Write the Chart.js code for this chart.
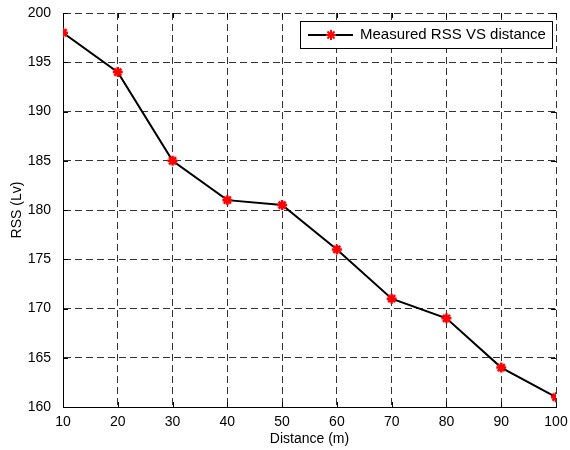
<!DOCTYPE html>
<html>
<head>
<meta charset="utf-8">
<script src="https://cdn.jsdelivr.net/npm/chart.js@4/dist/chart.umd.min.js"></script>
<style>
  html, body { margin: 0; padding: 0; background: #fff; }
  #wrap { width: 570px; height: 450px; position: relative; }
</style>
</head>
<body>
<div id="wrap"><canvas id="chart" width="570" height="450"></canvas></div>
<script>
// === DATA ===
const distances = [10, 20, 30, 40, 50, 60, 70, 80, 90, 100];
const rssValues = [198, 194, 185, 181, 180.5, 176, 171, 169, 164, 161];
const seriesLabel = 'Measured RSS VS distance';
const xTitle = 'Distance (m)';
const yTitle = 'RSS (Lv)';

const FONT = '"Liberation Sans", Arial, sans-serif';
const GRID_DASH = [7, 4];

// MATLAB-like inward ticks + boxed legend in the upper right corner
const matlabLook = {
    id: 'matlabLook',
    afterDatasetsDraw(chart) {
        const { ctx, chartArea: a, scales } = chart;
        const len = 5;
        ctx.save();
        ctx.strokeStyle = '#000';
        ctx.lineWidth = 1;
        ctx.beginPath();
        scales.x.ticks.forEach((t, i) => {
            const px = Math.round(scales.x.getPixelForTick(i)) + 0.5;
            ctx.moveTo(px, a.bottom); ctx.lineTo(px, a.bottom - len);
            ctx.moveTo(px, a.top); ctx.lineTo(px, a.top + len);
        });
        scales.y.ticks.forEach((t, i) => {
            const py = Math.round(scales.y.getPixelForTick(i)) + 0.5;
            ctx.moveTo(a.left, py); ctx.lineTo(a.left + len, py);
            ctx.moveTo(a.right, py); ctx.lineTo(a.right - len, py);
        });
        ctx.stroke();
        ctx.restore();
    },
    afterDraw(chart) {
        const { ctx, chartArea: a } = chart;
        const ds = chart.data.datasets[0];
        ctx.save();
        ctx.font = '15px ' + FONT;
        const tw = ctx.measureText(ds.label).width;
        const h = 27;
        const w = Math.round(60 + tw + 6);
        const right = Math.round(a.right - 4);
        const left = right - w;
        const top = Math.round(a.top + 8);
        ctx.fillStyle = '#fff';
        ctx.fillRect(left, top, w, h);
        ctx.strokeStyle = '#000';
        ctx.lineWidth = 1;
        ctx.strokeRect(left + 0.5, top + 0.5, w, h);
        const cy = top + h / 2 + 0.5;
        ctx.lineWidth = 2;
        ctx.beginPath();
        ctx.moveTo(left + 8, cy);
        ctx.lineTo(left + 53, cy);
        ctx.stroke();
        ctx.strokeStyle = '#ff0000';
        ctx.fillStyle = '#ff0000';
        Chart.helpers.drawPoint(ctx, { pointStyle: 'star', radius: 5, rotation: 0, borderWidth: 2.5 }, left + 31, cy);
        ctx.fillStyle = '#000';
        ctx.textBaseline = 'middle';
        ctx.fillText(ds.label, left + 60, cy);
        ctx.restore();
    }
};

const chart = new Chart(document.getElementById('chart'), {
    type: 'line',
    data: {
        datasets: [{
            label: seriesLabel,
            data: distances.map((d, i) => ({ x: d, y: rssValues[i] })),
            borderColor: '#000',
            borderWidth: 2,
            tension: 0,
            pointStyle: 'star',
            pointRadius: 5,
            pointBorderWidth: 2.5,
            pointBorderColor: '#ff0000',
            pointBackgroundColor: '#ff0000'
        }]
    },
    options: {
        responsive: false,
        animation: false,
        layout: { padding: { top: 13, right: 14, left: 0, bottom: 0 } },
        plugins: {
            legend: { display: false },
            tooltip: { enabled: false }
        },
        scales: {
            x: {
                type: 'linear',
                min: 10, max: 100,
                ticks: { stepSize: 10, color: '#000', font: { family: FONT, size: 14 }, padding: 2, maxRotation: 0 },
                grid: { color: '#333', lineWidth: 1, drawTicks: true, tickLength: 5, tickColor: 'rgba(0,0,0,0)' },
                border: { display: true, color: '#000', width: 1, dash: GRID_DASH },
                title: { display: true, text: xTitle, color: '#000', font: { family: FONT, size: 14 }, padding: { top: 2, bottom: 2 } },
                afterFit: (s) => { s.height = 43; }
            },
            y: {
                min: 160, max: 200,
                ticks: { stepSize: 5, color: '#000', font: { family: FONT, size: 14 }, padding: 4 },
                grid: { color: '#333', lineWidth: 1, drawTicks: true, tickLength: 8, tickColor: 'rgba(0,0,0,0)' },
                border: { display: true, color: '#000', width: 1, dash: GRID_DASH },
                title: { display: true, text: yTitle, color: '#000', font: { family: FONT, size: 14 }, padding: { top: 9, bottom: 0 } },
                afterFit: (s) => { s.width = 63; }
            }
        }
    },
    plugins: [matlabLook]
});
</script>
</body>
</html>
